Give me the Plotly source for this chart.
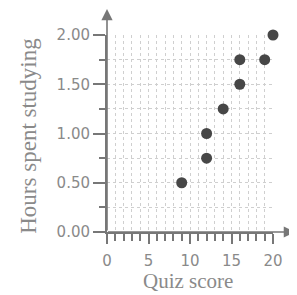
import plotly.graph_objects as go

quiz_score = [9, 12, 12, 14, 16, 16, 19, 20]
hours = [0.50, 0.75, 1.00, 1.25, 1.50, 1.75, 1.75, 2.00]
x_tick_vals = [0, 5, 10, 15, 20]
y_tick_vals = [0.0, 0.5, 1.0, 1.5, 2.0]
x_title = "Quiz score"
y_title = "Hours spent studying"

axis_col = "#777777"
text_col = "#8a8a8a"
grid_col = "#cfcfcf"

OFF = 8  # page body margin
W, H = 297 - OFF, 295 - OFF
L, R, T, B = 106.5 - OFF, 24, 35 - OFF, 63
pw, ph = W - L - R, H - T - B


def px_x(x):
    return (x - OFF - L) / pw


def px_y(y):
    return (T + ph - (y - OFF)) / ph


fig = go.Figure()
fig.add_trace(go.Scatter(
    x=quiz_score, y=hours, mode="markers",
    marker=dict(size=11, color="#474747"),
    cliponaxis=False, hoverinfo="skip", showlegend=False,
))

fig.update_layout(
    width=W, height=H,
    margin=dict(l=L, r=R, t=T, b=B, autoexpand=False),
    paper_bgcolor="white", plot_bgcolor="white",
    font=dict(family="DejaVu Sans", color=text_col),
    xaxis=dict(
        range=[0, 20], tickvals=x_tick_vals, ticks="outside", ticklen=10,
        tickwidth=1.5, tickcolor=axis_col, showgrid=True, gridcolor=grid_col,
        griddash="dot", gridwidth=1, zeroline=False, showline=True,
        linecolor=axis_col, linewidth=2, automargin=False,
        ticklabelstandoff=4,
        tickfont=dict(size=15, color=text_col),
        minor=dict(dtick=1, ticks="outside", ticklen=7, tickwidth=1.5,
                   tickcolor=axis_col, showgrid=True, gridcolor=grid_col,
                   griddash="dot", gridwidth=1),
    ),
    yaxis=dict(
        range=[0, 2], tickvals=y_tick_vals, tickformat=".2f", ticks="outside",
        ticklen=12, tickwidth=1.5, tickcolor=axis_col, showgrid=True,
        gridcolor=grid_col, griddash="dot", gridwidth=1, zeroline=False,
        showline=True, linecolor=axis_col, linewidth=2, automargin=False,
        tickfont=dict(size=15, color=text_col),
        minor=dict(dtick=0.25, ticks="outside", ticklen=6, tickwidth=1.5,
                   tickcolor=axis_col, showgrid=True, gridcolor=grid_col,
                   griddash="dot", gridwidth=1),
    ),
)

# axis lines extended with arrowheads
fig.add_annotation(x=px_x(295), y=0, xref="paper", yref="paper",
                   ax=-(295 - 106.5), ay=0, showarrow=True, arrowhead=2,
                   arrowsize=1.4, arrowwidth=1.6, arrowcolor=axis_col, text="")
fig.add_annotation(x=0, y=px_y(9), xref="paper", yref="paper",
                   ax=0, ay=(232 - 9), showarrow=True, arrowhead=2,
                   arrowsize=1.4, arrowwidth=1.6, arrowcolor=axis_col, text="")

# axis titles
fig.add_annotation(x=px_x(188), y=px_y(281), xref="paper", yref="paper",
                   text=x_title, showarrow=False, xanchor="center", yanchor="middle",
                   font=dict(family="Liberation Serif", size=21, color=text_col))
fig.add_annotation(x=px_x(27), y=px_y(136), xref="paper", yref="paper",
                   text=y_title, showarrow=False, xanchor="center", yanchor="middle",
                   textangle=-90,
                   font=dict(family="Liberation Serif", size=23, color=text_col))

fig.write_html("out.html")
